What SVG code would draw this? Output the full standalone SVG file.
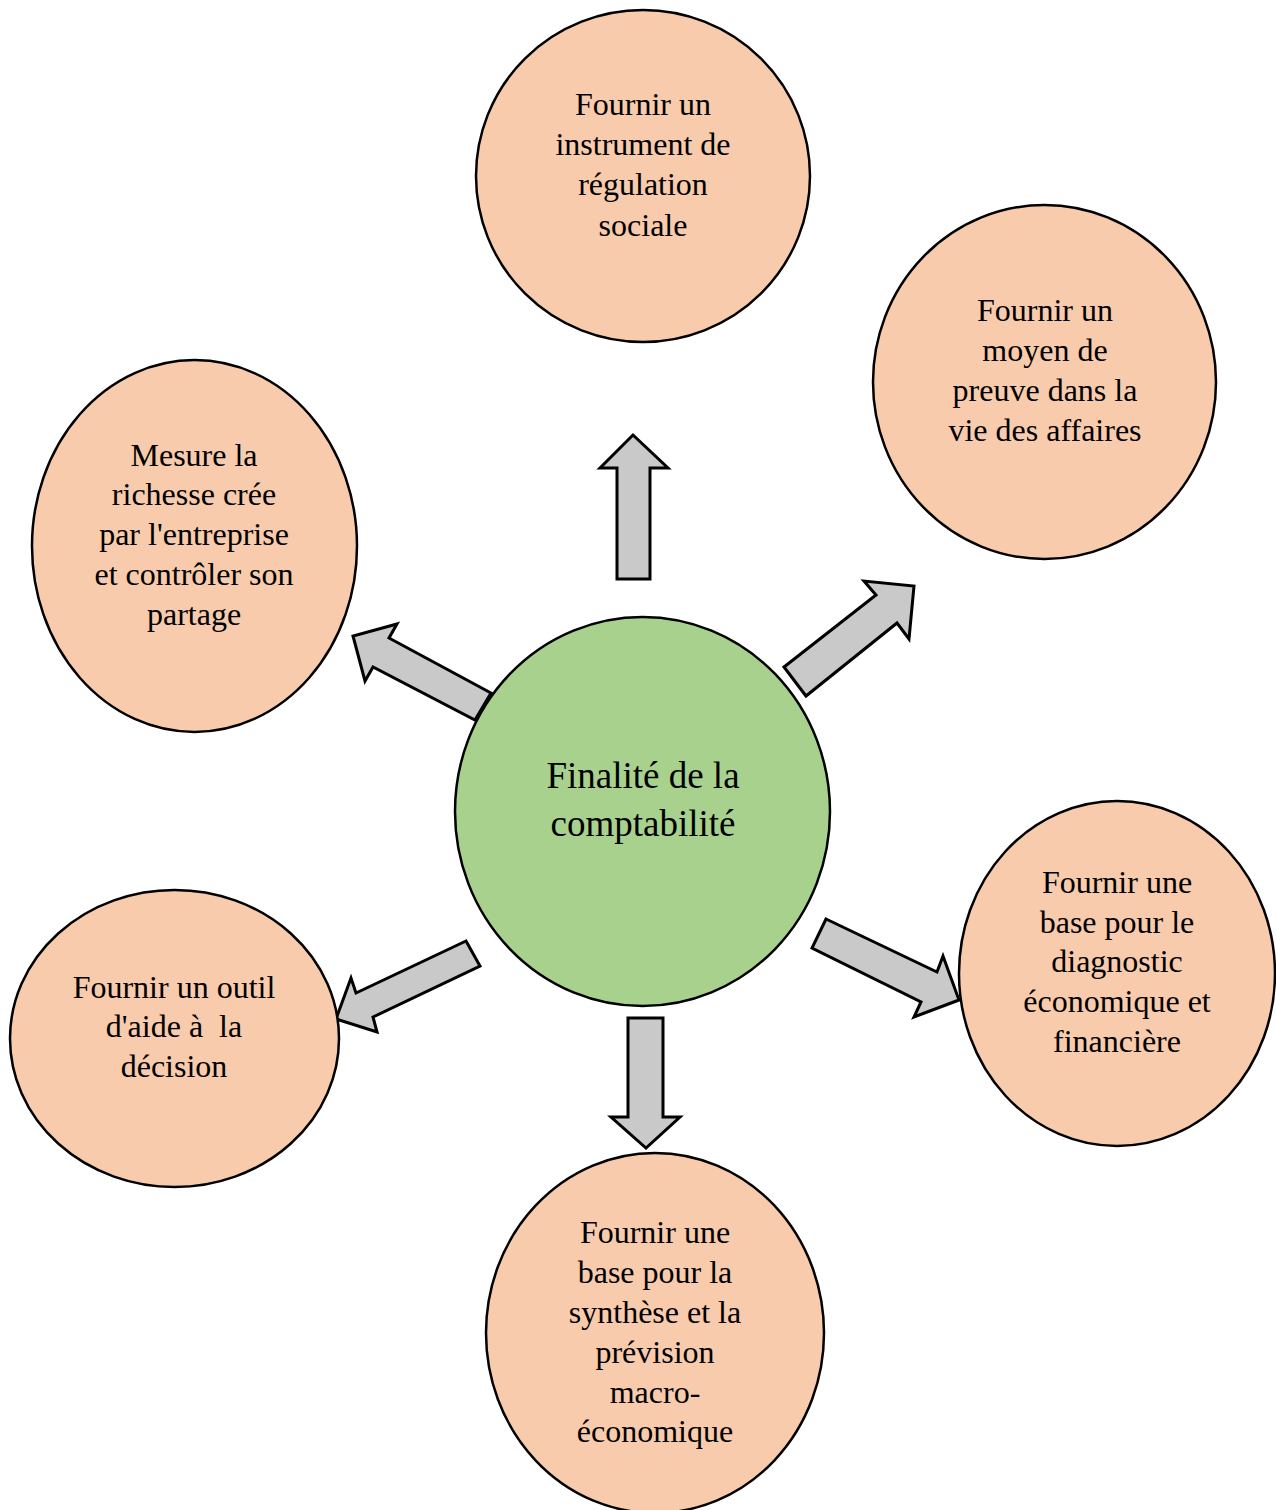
<svg xmlns="http://www.w3.org/2000/svg" width="1276" height="1510" viewBox="0 0 1276 1510">
<style>
.n{fill:#F8CBAD;stroke:#000;stroke-width:2.5}
.c{fill:#A9D18E;stroke:#000;stroke-width:2.5}
.a{fill:#C9C9C9;stroke:#000;stroke-width:3;stroke-linejoin:miter}
text{font-family:"Liberation Serif","Times New Roman",serif;font-size:32px;fill:#000;text-anchor:middle;white-space:pre}
.ct{font-size:37px}
</style>
<rect width="1276" height="1510" fill="#fff"/>
<g id="connectors">
<polygon class="a" points="617,579 617,468 600,468 633,435 668,468 650,468 650,579"/>
<polygon class="a" points="784,667 876,595 864,581 914,586 909,639 897,623 806,696"/>
<polygon class="a" points="491,693 389,638 397,624 353,636 365,681 373,667 475,720"/>
<polygon class="a" points="466,941 356,993 351,978 336,1019 377,1032 373,1017 480,966"/>
<polygon class="a" points="826,919 937,972 943,956 959,1000 914,1017 921,1002 812,948"/>
<polygon class="a" points="628,1018 663,1018 663,1117 680,1117 646,1148 611,1117 628,1117"/>
</g>
<g id="center">
<ellipse class="c" cx="642.5" cy="811.5" rx="187.5" ry="194.5"/>
<text class="ct" x="643" y="788">Finalité de la</text>
<text class="ct" x="643" y="836">comptabilité</text>
</g>
<g id="top">
<ellipse class="n" cx="643" cy="176" rx="167" ry="166"/>
<text x="643" y="115">Fournir un</text>
<text x="643" y="155">instrument de</text>
<text x="643" y="195">régulation</text>
<text x="643" y="236">sociale</text>
</g>
<g id="topright">
<ellipse class="n" cx="1044.5" cy="382" rx="171.5" ry="177"/>
<text x="1045" y="321">Fournir un</text>
<text x="1045" y="361">moyen de</text>
<text x="1045" y="401">preuve dans la</text>
<text x="1045" y="441">vie des affaires</text>
</g>
<g id="left">
<ellipse class="n" cx="194.5" cy="546" rx="162.5" ry="186"/>
<text x="194" y="466">Mesure la</text>
<text x="194" y="505">richesse crée</text>
<text x="194" y="545">par l'entreprise</text>
<text x="194" y="585">et contrôler son</text>
<text x="194" y="625">partage</text>
</g>
<g id="right">
<ellipse class="n" cx="1117" cy="973.5" rx="158" ry="172.5"/>
<text x="1117" y="893">Fournir une</text>
<text x="1117" y="933">base pour le</text>
<text x="1117" y="972">diagnostic</text>
<text x="1117" y="1012">économique et</text>
<text x="1117" y="1052">financière</text>
</g>
<g id="bottomleft">
<ellipse class="n" cx="174.5" cy="1038.5" rx="164.5" ry="148.5"/>
<text x="174" y="998">Fournir un outil</text>
<text x="174" y="1037">d'aide à  la</text>
<text x="174" y="1077">décision</text>
</g>
<g id="bottom">
<ellipse class="n" cx="655" cy="1333" rx="169" ry="180"/>
<text x="655" y="1243">Fournir une</text>
<text x="655" y="1283">base pour la</text>
<text x="655" y="1323">synthèse et la</text>
<text x="655" y="1363">prévision</text>
<text x="655" y="1403">macro-</text>
<text x="655" y="1442">économique</text>
</g>
</svg>
